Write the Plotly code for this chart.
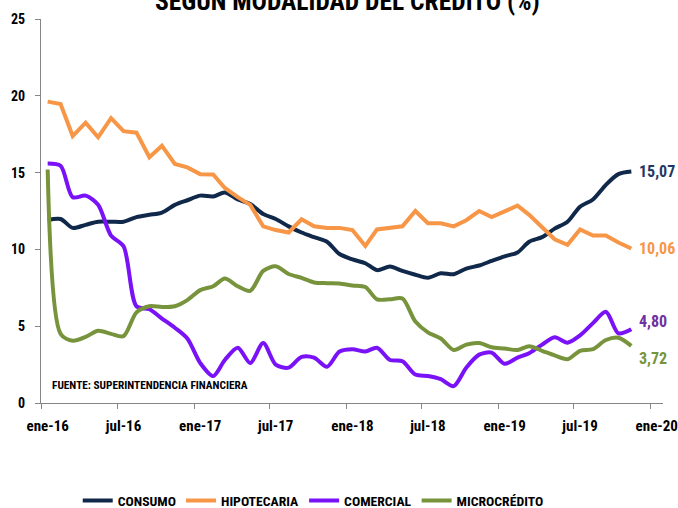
import pandas as pd
import plotly.graph_objects as go

# ---- data (monthly, ene-2016 .. nov-2019) ----
months = pd.date_range("2016-01-01", periods=47, freq="MS")

consumo = [11.91, 11.98, 11.4, 11.6, 11.8, 11.8, 11.8, 12.1, 12.25, 12.4,
           12.9, 13.2, 13.5, 13.45, 13.7, 13.25, 12.95, 12.3, 11.98, 11.5,
           11.1, 10.8, 10.5, 9.7, 9.35, 9.1, 8.65, 8.88, 8.6, 8.35,
           8.15, 8.45, 8.38, 8.75, 8.95, 9.25, 9.55, 9.8, 10.5, 10.8,
           11.35, 11.8, 12.78, 13.25, 14.2, 14.9, 15.07]

hipotecaria = [19.62, 19.47, 17.38, 18.25, 17.3, 18.55, 17.7, 17.6, 16.0, 16.75,
               15.56, 15.34, 14.9, 14.88, 14.0, 13.4, 12.9, 11.5, 11.26, 11.1,
               11.96, 11.5, 11.4, 11.4, 11.26, 10.22, 11.3, 11.4, 11.5, 12.5,
               11.7, 11.7, 11.5, 11.9, 12.5, 12.1, 12.5, 12.85, 12.25, 11.4,
               10.66, 10.3, 11.3, 10.9, 10.9, 10.45, 10.06]

comercial = [15.6, 15.45, 13.4, 13.5, 12.9, 10.9, 10.2, 6.3, 6.1, 5.5,
             4.9, 4.2, 2.6, 1.75, 2.8, 3.6, 2.6, 3.9, 2.5, 2.3,
             3.0, 2.95, 2.36, 3.35, 3.5, 3.35, 3.6, 2.8, 2.72, 1.85,
             1.76, 1.55, 1.1, 2.3, 3.15, 3.28, 2.55, 2.95, 3.24, 3.8,
             4.28, 3.93, 4.4, 5.2, 5.94, 4.54, 4.80]

microcredito = [15.2, 4.5, 4.05, 4.3, 4.7, 4.5, 4.35, 5.9, 6.3, 6.25,
                6.3, 6.7, 7.35, 7.6, 8.1, 7.6, 7.3, 8.6, 8.9, 8.4,
                8.15, 7.85, 7.8, 7.78, 7.65, 7.55, 6.75, 6.75, 6.8, 5.3,
                4.6, 4.2, 3.45, 3.8, 3.9, 3.63, 3.55, 3.45, 3.7, 3.4,
                3.1, 2.85, 3.4, 3.5, 4.1, 4.25, 3.72]

names = ["CONSUMO", "HIPOTECARIA", "COMERCIAL", "MICROCRÉDITO"]
end_labels = ["15,07", "10,06", "4,80", "3,72"]
tick_dates = pd.date_range("2016-01-01", "2020-01-01", freq="6MS")
tick_text = ["ene-16", "jul-16", "ene-17", "jul-17", "ene-18", "jul-18",
             "ene-19", "jul-19", "ene-20"]

# ---- styling ----
FONT = "Liberation Sans Narrow, Roboto Condensed, Liberation Sans, Arial, sans-serif"
line_colors = ["#10294A", "#F79646", "#7A12F7", "#77933C"]
label_colors = ["#1F3864", "#F79646", "#7030A0", "#77933C"]
shapes = ["spline", "linear", "spline", "spline"]
label_yshift = [0, 0, 8, -13]

series = [consumo, hipotecaria, comercial, microcredito]

fig = go.Figure()
for name, vals, col, shp in zip(names, series, line_colors, shapes):
    fig.add_trace(go.Scatter(
        x=months, y=vals, name=name, mode="lines",
        line=dict(color=col, width=4, shape=shp, smoothing=0.8),
    ))

for vals, txt, col, ys in zip(series, end_labels, label_colors, label_yshift):
    fig.add_annotation(
        x=months[-1], y=vals[-1], xref="x", yref="y", text=txt,
        showarrow=False, xanchor="left", yanchor="middle", xshift=6, yshift=ys,
        font=dict(family=FONT, size=16, color=col, weight="bold"),
    )

fig.add_annotation(
    x=0.492, y=1.047, xref="paper", yref="paper",
    text="SEGÚN MODALIDAD DEL CRÉDITO (%)", showarrow=False,
    xanchor="center", yanchor="middle",
    font=dict(family=FONT, size=25.5, color="#000000", weight="bold"),
)

fig.add_annotation(
    x=0.015, y=0.045, xref="paper", yref="paper",
    text="FUENTE: SUPERINTENDENCIA FINANCIERA", showarrow=False,
    xanchor="left", yanchor="middle",
    font=dict(family=FONT, size=11.3, color="#000000", weight="bold"),
)

minor_ticks = [d - pd.Timedelta(days=15) for d in tick_dates]

fig.update_layout(
    width=678, height=508, autosize=False,
    margin=dict(l=41, r=15, t=19, b=105, autoexpand=False),
    paper_bgcolor="white", plot_bgcolor="white",
    font=dict(family=FONT, size=14, color="#000000"),
    showlegend=True,
    legend=dict(
        orientation="h", xref="container", yref="container",
        x=0.462, xanchor="center", y=0.0144, yanchor="middle",
        font=dict(family=FONT, size=13.7, color="#000000", weight="bold"),
        bgcolor="rgba(0,0,0,0)",
    ),
    xaxis=dict(
        type="date", automargin=False,
        range=[pd.Timestamp("2015-12-16"), pd.Timestamp("2020-01-16")],
        tickvals=list(tick_dates), ticktext=tick_text,
        ticks="", showgrid=False, zeroline=False,
        showline=True, linecolor="#868686", linewidth=1,
        ticklabelstandoff=9,
        tickfont=dict(family=FONT, size=15, color="#000000", weight="bold"),
        minor=dict(tickvals=minor_ticks, ticks="outside", ticklen=5,
                   tickcolor="#868686", tickwidth=1, showgrid=False),
    ),
    yaxis=dict(
        range=[0, 25], tickvals=[0, 5, 10, 15, 20, 25], automargin=False,
        ticks="outside", ticklen=5, tickcolor="#868686", tickwidth=1,
        showgrid=False, zeroline=False,
        showline=True, linecolor="#868686", linewidth=1,
        ticklabelstandoff=7,
        tickfont=dict(family=FONT, size=14, color="#000000", weight="bold"),
    ),
)

fig.write_html("out.html", config={"displayModeBar": False},
               post_script="document.body.style.margin='0px';")
